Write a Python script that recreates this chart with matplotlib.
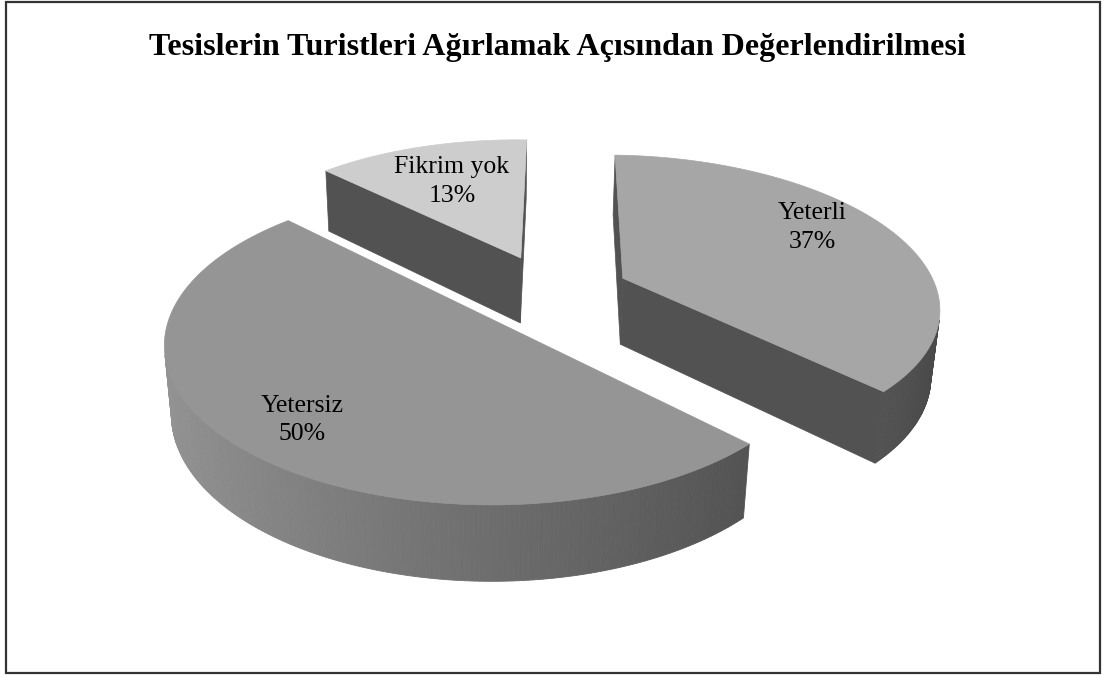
import numpy as np
import matplotlib
matplotlib.use('Agg')
import matplotlib.pyplot as plt
from matplotlib.patches import Polygon, Rectangle

title = 'Tesislerin Turistleri Ağırlamak Açısından Değerlendirilmesi'
labels = ['Yeterli', 'Yetersiz', 'Fikrim yok']
values = [37, 50, 13]
top_colors = ['#a6a6a6', '#959595', '#cdcdcd']
explode = [0.252, 0.263, 0.255]
# label spot: distance from slice tip and turn from the mid angle (deg)
label_pos = [(0.77, -8.0), (0.79, -3.0), (0.66, 0.0)]

# camera for the 3d pie (pie radius = 1)
CX, CY = 496, 291.5      # screen point of the camera axis
K = 314
ELEV = np.radians(27.8)
DIST = 5.62
CAM_X = -0.175
START = 2.0              # first slice angle, deg
THICK = 0.245

cam = np.array([CAM_X, -DIST * np.cos(ELEV), DIST * np.sin(ELEV)])
fwd = np.array([0.0, np.cos(ELEV), -np.sin(ELEV)])
up = np.array([0.0, np.sin(ELEV), np.cos(ELEV)])


def project(x, y, z):
    v = np.stack(np.broadcast_arrays(x, y, z), axis=-1) - cam
    depth = v @ fwd
    px = CX + K * DIST * v[..., 0] / depth
    py = CY - K * DIST * (v @ up) / depth
    return px, py


def pts(x, y, z):
    px, py = project(np.atleast_1d(x), np.atleast_1d(y), np.atleast_1d(z))
    return list(zip(px, py))


def side_gray(t):
    g = 0.43 + 0.15 * (-np.sin(t))
    return (g, g, g)


fig = plt.figure(figsize=(11.05, 6.77), dpi=100)
ax = fig.add_axes([0, 0, 1, 1])
ax.set_xlim(0, 1105)
ax.set_ylim(677, 0)
ax.axis('off')

ax.add_patch(Rectangle((6, 2), 1094, 671, fill=False, edgecolor='#333333', lw=1.6))
ax.text(557, 47, title, ha='center', va='center', fontsize=23,
        fontweight='bold', family='Liberation Serif')

fracs = np.array(values) / np.sum(values)
bounds = np.radians(np.concatenate([[0], np.cumsum(fracs)]) * 360 + START)

slices = []
for i in range(len(values)):
    t1, t2 = bounds[i], bounds[i + 1]
    mid = (t1 + t2) / 2
    ox, oy = explode[i] * np.sin(mid), explode[i] * np.cos(mid)
    slices.append((oy, i, t1, t2, mid, ox))

# far slices first
for oy, i, t1, t2, mid, ox in sorted(slices, reverse=True):
    t = np.linspace(t1, t2, 240)
    rx, ry = ox + np.sin(t), oy + np.cos(t)

    # flat cut faces
    for ang, n in ((t1, (-np.cos(t1), np.sin(t1))), (t2, (np.cos(t2), -np.sin(t2)))):
        if n[0] * (cam[0] - ox) + n[1] * (cam[1] - oy) > 0:
            ex, ey = ox + np.sin(ang), oy + np.cos(ang)
            face = pts([ox, ex, ex, ox], [oy, ey, ey, oy], [0, 0, -THICK, -THICK])
            ax.add_patch(Polygon(face, closed=True, fc='#525252', ec='#525252', lw=0.5))

    # outer curved side
    vis = np.sin(t) * (cam[0] - rx) + np.cos(t) * (cam[1] - ry) > 0
    for k in np.where(vis)[0][:-1]:
        if not vis[k + 1]:
            continue
        xa, ya = rx[k:k + 2], ry[k:k + 2]
        quad = pts(xa, ya, 0) + pts(xa[::-1], ya[::-1], -THICK)
        c = side_gray(t[k])
        ax.add_patch(Polygon(quad, closed=True, fc=c, ec=c, lw=0.6))

    # top face
    top = pts(ox, oy, 0) + pts(rx, ry, 0)
    ax.add_patch(Polygon(top, closed=True, fc=top_colors[i], ec=top_colors[i], lw=0.5))

    r, turn = label_pos[i]
    la = mid + np.radians(turn)
    (lx, ly), = pts(ox + r * np.sin(la), oy + r * np.cos(la), 0)
    ax.text(lx, ly, f'{labels[i]}\n{values[i]}%', ha='center', va='center',
            fontsize=18.5, family='Liberation Serif', linespacing=1.4)

fig.savefig('out.png', dpi=100)
